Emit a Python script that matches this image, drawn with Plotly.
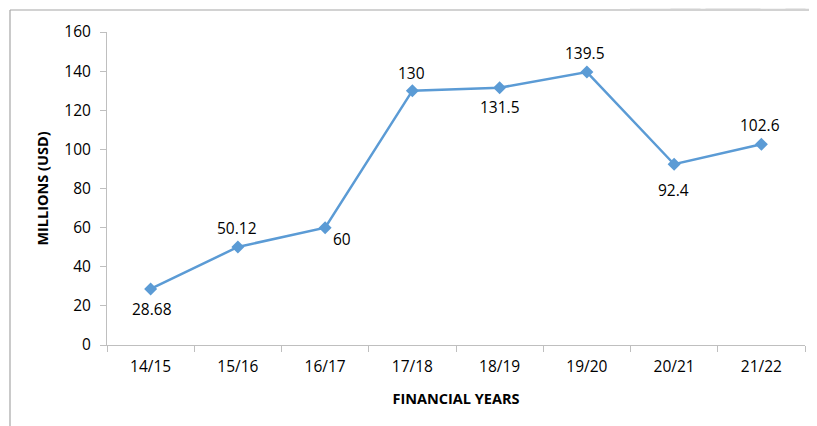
import plotly.graph_objects as go

years = ["14/15", "15/16", "16/17", "17/18", "18/19", "19/20", "20/21", "21/22"]
values = [28.68, 50.12, 60, 130, 131.5, 139.5, 92.4, 102.6]
labels = ["28.68", "50.12", "60", "130", "131.5", "139.5", "92.4", "102.6"]

# label offsets (pixels) relative to each point: (xshift, yshift)
label_offsets = [(1, -20), (-1, 19), (17, -11), (-1, 18), (0, -19), (-2, 19), (-1, -26), (-1, 19)]

# page body has an 8px margin; lay out in screenshot pixels and subtract it
OFF = 8
W, H = 817 - OFF, 426 - OFF
L, R, T, B = 107 - OFF, 12, 32 - OFF, 81
pw, ph = W - L - R, H - T - B

def px(x):
    return (x - OFF - L) / pw

def py(y):
    return (H - B - (y - OFF)) / ph

FONT = "Open Sans, Noto Sans, sans-serif"
BLUE = "#5b9bd5"

fig = go.Figure()
fig.add_trace(go.Scatter(
    x=years, y=values, mode="lines+markers",
    line=dict(color=BLUE, width=2.5),
    marker=dict(symbol="diamond", size=10, color=BLUE),
    cliponaxis=False, showlegend=False,
))

annotations = []
for xc, yv, lab, (dx, dy) in zip(years, values, labels, label_offsets):
    annotations.append(dict(
        x=xc, y=yv, xref="x", yref="y", text=lab, showarrow=False,
        xanchor="center", yanchor="middle", xshift=dx, yshift=dy,
        font=dict(family=FONT, size=15.5, color="#000000"),
    ))

shapes = []
shapes.append(dict(type="rect", xref="paper", yref="paper", layer="below",
                   x0=px(630), x1=px(830), y0=py(9), y1=py(0),
                   line=dict(width=0), fillcolor="#f4f4f4"))
for xa, xb in [(670, 700), (705, 760), (785, 805)]:
    path = "M {} {} L {} {} L {} {} L {} {} Z".format(
        px(xa), py(9), px(xb), py(9), px(xb + 9), py(0), px(xa + 9), py(0))
    shapes.append(dict(type="path", xref="paper", yref="paper", layer="below",
                       path=path, line=dict(width=0), fillcolor="#e8e8e8"))
shapes.append(dict(type="line", xref="paper", yref="paper",
                   x0=px(10), x1=px(830), y0=py(10), y1=py(10),
                   line=dict(color="#a6a6a6", width=1.2)))
shapes.append(dict(type="line", xref="paper", yref="paper",
                   x0=px(10), x1=px(10), y0=py(10), y1=py(440),
                   line=dict(color="#a6a6a6", width=1.2)))

fig.update_layout(
    width=W, height=H,
    margin=dict(l=L, r=R, t=T, b=B, autoexpand=False),
    paper_bgcolor="white", plot_bgcolor="white",
    font=dict(family=FONT, size=15.5, color="#000000"),
    shapes=shapes, annotations=annotations,
    xaxis=dict(
        type="category", range=[-0.5, 7.5], automargin=False,
        showgrid=False, zeroline=False,
        showline=True, linecolor="#bfbfbf", linewidth=1,
        ticks="outside", ticklen=6, tickcolor="#bfbfbf",
        tickson="boundaries", ticklabelstandoff=7,
        tickfont=dict(family=FONT, size=15.5),
        title=dict(text="<b>FINANCIAL YEARS</b>", font=dict(family=FONT, size=14.5), standoff=18),
    ),
    yaxis=dict(
        range=[0, 160], dtick=20, automargin=False,
        showgrid=False, zeroline=False,
        showline=True, linecolor="#bfbfbf", linewidth=1,
        ticks="outside", ticklen=6, tickcolor="#bfbfbf",
        ticklabelstandoff=6,
        tickfont=dict(family=FONT, size=15.5),
        title=dict(text="<b>MILLIONS (USD)</b>", font=dict(family=FONT, size=14.5), standoff=12),
    ),
)

fig.write_html("out.html")
